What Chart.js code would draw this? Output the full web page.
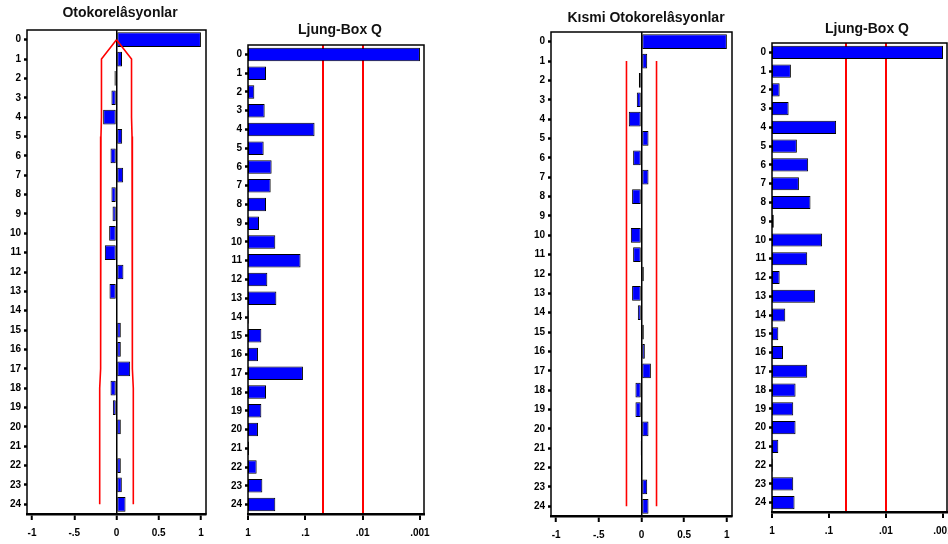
<!DOCTYPE html>
<html>
<head>
<meta charset="utf-8">
<script src="https://cdn.jsdelivr.net/npm/chart.js@4/dist/chart.umd.min.js"></script>
<style>
  body { margin: 0; background: #fff; }
  #wrap { position: relative; width: 948px; height: 544px; overflow: hidden; }
  canvas { position: absolute; top: 0; }
  .ttl { position: absolute; transform: translate(-50%, -50%); font: bold 14px "Liberation Sans", Arial, sans-serif; color: #111; white-space: nowrap; }
</style>
</head>
<body>
<div id="wrap">
  <canvas id="acf"></canvas>
  <canvas id="acfQ"></canvas>
  <canvas id="pacf"></canvas>
  <canvas id="pacfQ"></canvas>
  <div class="ttl" style="left:120px;top:12px">Otokorelâsyonlar</div>
  <div class="ttl" style="left:340px;top:29px">Ljung-Box Q</div>
  <div class="ttl" style="left:646px;top:17px">Kısmi Otokorelâsyonlar</div>
  <div class="ttl" style="left:867px;top:28px">Ljung-Box Q</div>
</div>
<script>
// lags 0..24
const lags = ['0', '1', '2', '3', '4', '5', '6', '7', '8', '9', '10', '11', '12',
  '13', '14', '15', '16', '17', '18', '19', '20', '21', '22', '23', '24'];

// autocorrelations and their confidence band
const acf = [1.0, 0.065, -0.024, -0.06, -0.158, 0.067, -0.071, 0.079, -0.06, -0.047, -0.087, -0.138, 0.082,
  -0.083, 0.01, 0.051, 0.051, 0.162, -0.071, -0.043, 0.051, 0.01, 0.051, 0.063, 0.107];
const acfBand = [0, 0.178, 0.178, 0.178, 0.178, 0.184, 0.184, 0.184, 0.184, 0.184, 0.184, 0.184, 0.192,
  0.192, 0.192, 0.192, 0.192, 0.192, 0.199, 0.199, 0.199, 0.199, 0.199, 0.199, 0.199];
// Ljung-Box p-values for the autocorrelations
const acfQp = [0.001, 0.485, 0.776, 0.512, 0.069, 0.533, 0.387, 0.402, 0.485, 0.643, 0.334, 0.121, 0.46,
  0.32, 0.97, 0.585, 0.67, 0.11, 0.485, 0.585, 0.67, 0.96, 0.706, 0.562, 0.334];

// partial autocorrelations and their band
const pacf = [1.0, 0.067, -0.031, -0.055, -0.149, 0.082, -0.098, 0.082, -0.11, 0.01, -0.125, -0.098, 0.027,
  -0.11, -0.043, 0.027, 0.039, 0.11, -0.071, -0.071, 0.082, -0.012, 0.006, 0.067, 0.082];
const pacfBand = [null, 0.176, 0.176, 0.176, 0.176, 0.176, 0.176, 0.176, 0.176, 0.176, 0.176, 0.176, 0.176,
  0.176, 0.176, 0.176, 0.176, 0.176, 0.176, 0.176, 0.176, 0.176, 0.176, 0.176, 0.176];
const pacfQp = [0.001, 0.466, 0.734, 0.511, 0.075, 0.366, 0.232, 0.337, 0.211, 0.93, 0.132, 0.241, 0.734,
  0.175, 0.585, 0.775, 0.642, 0.241, 0.386, 0.424, 0.386, 0.775, 0.97, 0.424, 0.402];

const corrTicks = [-1, -0.5, 0, 0.5, 1];
const corrTickLabels = ['-1', '-.5', '0', '0.5', '1'];
const qTicks = [1, 0.1, 0.01, 0.001];
const qTickLabels = ['1', '.1', '.01', '.001'];
const sigLevels = [0.05, 0.01];

const tickFont = { family: '"Liberation Sans", Arial, sans-serif', size: 10, weight: 'bold' };
const yW = 22, xH = 24, padL = 2, padR = 16;

const frame = {
  id: 'frame',
  afterDatasetsDraw(chart) {
    const { ctx, chartArea: a } = chart;
    ctx.save();
    ctx.strokeStyle = '#000';
    ctx.lineWidth = 1.5;
    ctx.strokeRect(a.left, a.top, a.right - a.left, a.bottom - a.top);
    ctx.restore();
  }
};

const barStyle = {
  backgroundColor: '#0000ff', borderColor: '#000', borderWidth: 1, borderSkipped: false,
  barPercentage: 0.76, categoryPercentage: 1, order: 1
};
const bandStyle = { type: 'line', borderColor: '#ff0000', borderWidth: 1.6, pointRadius: 0, tension: 0, fill: false, order: 0 };

const corrAxis = {
  type: 'linear', min: -1.06, max: 1.06,
  afterBuildTicks: s => { s.ticks = corrTicks.map(v => ({ value: v })); },
  afterFit: s => { s.height = xH; },
  grid: {
    color: c => (c.tick && c.tick.value === 0 ? '#000' : 'rgba(0,0,0,0)'),
    lineWidth: 1.5, tickColor: '#000', tickLength: 6, tickWidth: 2
  },
  border: { display: true, color: '#000', width: 2.5 },
  ticks: { callback: v => corrTickLabels[corrTicks.indexOf(v)], font: tickFont, color: '#000', padding: 7, maxRotation: 0, autoSkip: false }
};

const qAllTicks = [...new Set(qTicks.concat(sigLevels))].sort((a, b) => b - a);
const qAxis = {
  type: 'logarithmic', reverse: true, min: 0.00085, max: 1, z: 1,
  afterBuildTicks: s => { s.ticks = qAllTicks.map(v => ({ value: v })); },
  afterFit: s => { s.height = xH; },
  grid: {
    color: c => (c.tick && sigLevels.includes(c.tick.value) ? '#ff0000' : 'rgba(0,0,0,0)'),
    lineWidth: 2,
    tickColor: c => (c.tick && qTicks.includes(c.tick.value) ? '#000' : 'rgba(0,0,0,0)'),
    tickLength: 6, tickWidth: 2
  },
  border: { display: true, color: '#000', width: 2.5 },
  ticks: {
    callback: v => { const i = qTicks.indexOf(v); return i < 0 ? '' : qTickLabels[i]; },
    font: tickFont, color: '#000', padding: 7, maxRotation: 0, autoSkip: false
  }
};

function panel(id, box, datasets, xAxis) {
  const cv = document.getElementById(id);
  const left = box.left - yW - padL;
  cv.width = box.right - left + padR;
  cv.height = 544;
  cv.style.left = left + 'px';
  return new Chart(cv, {
    type: 'bar',
    data: { labels: lags, datasets },
    options: {
      indexAxis: 'y',
      responsive: false,
      devicePixelRatio: 1,
      animation: false,
      events: [],
      layout: { padding: { left: padL, right: padR, top: box.top, bottom: 544 - box.bottom - xH } },
      plugins: { legend: { display: false }, tooltip: { enabled: false } },
      scales: {
        x: xAxis,
        y: {
          afterFit: s => { s.width = yW; },
          grid: { offset: false, drawOnChartArea: false, tickLength: 3, tickWidth: 2.5, tickColor: '#000' },
          border: { display: false },
          ticks: { font: tickFont, color: '#000', padding: 3, autoSkip: false }
        }
      }
    },
    plugins: [frame]
  });
}

panel('acf', { left: 27, right: 206, top: 30, bottom: 514 }, [
  { ...barStyle, data: acf },
  { ...bandStyle, data: acfBand },
  { ...bandStyle, data: acfBand.map(v => -v) }
], corrAxis);

panel('acfQ', { left: 248, right: 424, top: 45, bottom: 514 }, [
  { ...barStyle, barPercentage: 0.72, data: acfQp.map(p => [1, p]) }
], qAxis);

panel('pacf', { left: 551, right: 732, top: 32, bottom: 516 }, [
  { ...barStyle, data: pacf },
  { ...bandStyle, data: pacfBand },
  { ...bandStyle, data: pacfBand.map(v => (v === null ? null : -v)) }
], corrAxis);

panel('pacfQ', { left: 772, right: 947, top: 43, bottom: 512 }, [
  { ...barStyle, barPercentage: 0.7, data: pacfQp.map(p => [1, p]) }
], qAxis);
</script>
</body>
</html>
